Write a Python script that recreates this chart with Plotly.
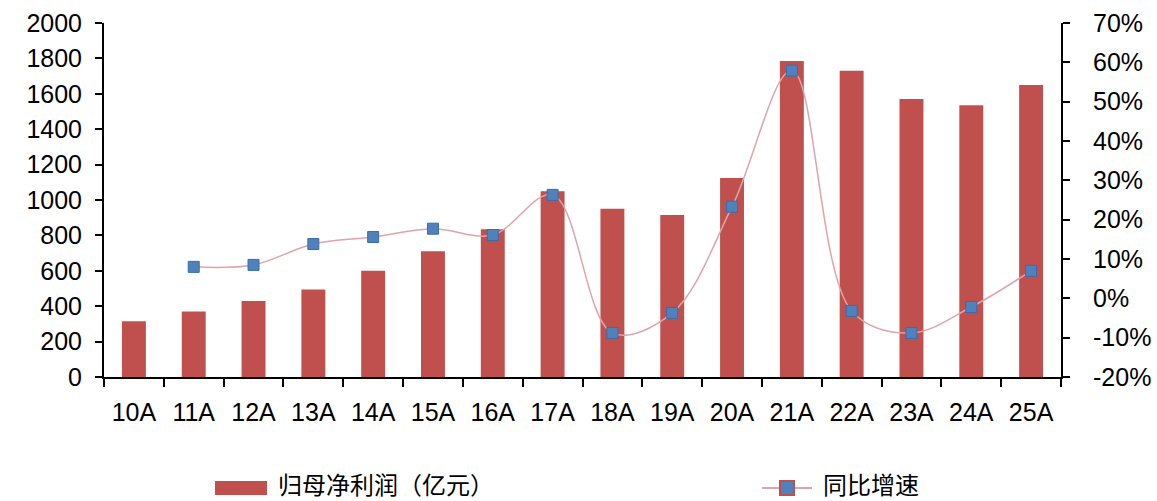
import plotly.graph_objects as go

categories = ["10A", "11A", "12A", "13A", "14A", "15A", "16A", "17A",
              "18A", "19A", "20A", "21A", "22A", "23A", "24A", "25A"]
profit = [315, 370, 430, 495, 600, 710, 835, 1050,
          950, 915, 1125, 1785, 1730, 1570, 1535, 1650]
growth = [None, 8.0, 8.5, 13.8, 15.6, 17.7, 16.1, 26.3,
          -8.8, -3.7, 23.3, 57.9, -3.2, -8.8, -2.2, 7.0]
pct_ticks = [-20, -10, 0, 10, 20, 30, 40, 50, 60, 70]
pct_labels = ["-20%", "-10%", "0%", "10%", "20%", "30%", "40%", "50%", "60%", "70%"]
bar_name = "归母净利润（亿元）"
line_name = "同比增速"

BAR_COLOR = "#C0504D"
LINE_COLOR = "#DDA5AB"
MARK_COLOR = "#4F81BD"

W, H = 1157, 501
ML, MR, MT, MB = 104, 96, 23, 124

fig = go.Figure()
fig.add_trace(go.Bar(
    x=categories, y=profit, name=bar_name,
    marker=dict(color=BAR_COLOR, line=dict(width=0)),
    width=0.4, showlegend=False,
))
fig.add_trace(go.Scatter(
    x=categories, y=growth, name=line_name, yaxis="y2",
    mode="lines+markers",
    line=dict(color=LINE_COLOR, width=1.5, shape="spline", smoothing=1.0),
    marker=dict(symbol="square", size=11, color=MARK_COLOR,
                line=dict(color="#3A6DA8", width=1)),
    connectgaps=False, showlegend=False,
))

tickfont = dict(family="Liberation Sans, Arial, sans-serif", size=25, color="#000000")
legfont = dict(family="Noto Sans CJK SC, sans-serif", size=24, color="#000000")


def px_x(p):
    return (p - ML) / (W - ML - MR)


def px_y(p):
    return (H - MB - p) / (H - MT - MB)


shapes = []
annotations = []
# legend: bar swatch
shapes.append(dict(type="rect", xref="paper", yref="paper",
                   x0=px_x(215), x1=px_x(267), y0=px_y(495), y1=px_y(481),
                   fillcolor=BAR_COLOR, line=dict(width=0)))
annotations.append(dict(xref="paper", yref="paper", x=px_x(277), y=px_y(483),
                        xanchor="left", yanchor="middle", showarrow=False,
                        text=bar_name, font=legfont, borderpad=0))
# legend: line + marker
shapes.append(dict(type="line", xref="paper", yref="paper",
                   x0=px_x(762), x1=px_x(812), y0=px_y(488), y1=px_y(488),
                   line=dict(color=LINE_COLOR, width=2)))
shapes.append(dict(type="rect", xref="paper", yref="paper",
                   x0=px_x(780), x1=px_x(794), y0=px_y(495), y1=px_y(481),
                   fillcolor=MARK_COLOR, line=dict(color=BAR_COLOR, width=2)))
annotations.append(dict(xref="paper", yref="paper", x=px_x(822), y=px_y(483),
                        xanchor="left", yanchor="middle", showarrow=False,
                        text=line_name, font=legfont, borderpad=0))

fig.update_layout(
    width=W, height=H,
    margin=dict(l=ML, r=MR, t=MT, b=MB, autoexpand=False),
    plot_bgcolor="white", paper_bgcolor="white",
    showlegend=False,
    shapes=shapes, annotations=annotations,
    xaxis=dict(
        range=[-0.5, len(categories) - 0.5],
        tickfont=tickfont, showline=True, linecolor="#000000", linewidth=2,
        ticks="outside", ticklen=8, tickcolor="#000000", tickwidth=2,
        tickson="boundaries", showgrid=False, zeroline=False,
        ticklabelstandoff=12, automargin=False,
    ),
    yaxis=dict(
        range=[0, 2000], dtick=200, tickfont=tickfont,
        showline=True, linecolor="#000000", linewidth=2,
        ticks="outside", ticklen=7, tickcolor="#000000", tickwidth=1.5,
        showgrid=False, zeroline=False, ticklabelstandoff=8, automargin=False,
    ),
    yaxis2=dict(
        range=[-20, 70], tickmode="array", tickvals=pct_ticks, ticktext=pct_labels,
        tickfont=tickfont, overlaying="y", side="right",
        showline=True, linecolor="#000000", linewidth=2,
        ticks="outside", ticklen=7, tickcolor="#000000", tickwidth=1.5,
        showgrid=False, zeroline=False, ticklabelstandoff=18, automargin=False,
    ),
)

fig.write_html("out.html")
